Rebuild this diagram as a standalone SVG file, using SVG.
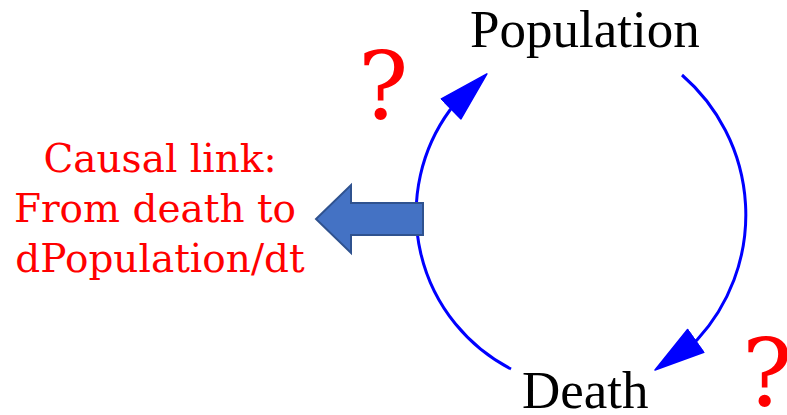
<svg xmlns="http://www.w3.org/2000/svg" width="787" height="415" viewBox="0 0 787 415">
  <style>
    .node { font-family: "Liberation Serif", "Times New Roman", serif; font-size: 53px; fill: #000000; }
    .note { font-family: "DejaVu Serif", serif; font-size: 39px; fill: #FF0000; text-anchor: middle; }
    .ask { font-family: "DejaVu Serif", serif; font-size: 94px; fill: #FF0000; }
    .link { fill: none; stroke: #0000FF; stroke-width: 3; marker-end: url(#head); }
    .block { fill: #4472C4; stroke: #2F528F; stroke-width: 2; stroke-linejoin: miter; }
  </style>
  <defs>
    <marker id="head" markerUnits="userSpaceOnUse" viewBox="0 0 52 30" markerWidth="52" markerHeight="30" refX="45" refY="15" orient="auto">
      <path d="M1,1 L51,15 L1,29 Z" fill="#0000FF" stroke="#0000FF" stroke-width="1.5" stroke-linejoin="round"/>
    </marker>
  </defs>
  <rect width="787" height="415" fill="#FFFFFF"/>

  <g id="connectors">
    <!-- Population to Death, around the right side -->
    <path class="link" d="M682,75 A185,185 0 0 1 697,340 L659.9,366.5"/>
    <!-- Death back to Population, around the left side -->
    <path class="link" d="M511,369 A175,175 0 0 1 450,110 L482.6,78.1"/>
  </g>

  <g id="population">
    <text class="node" x="470" y="47">Population</text>
  </g>
  <g id="death">
    <text class="node" x="522" y="408">Death</text>
  </g>

  <g id="question-marks">
    <text class="ask" x="358" y="119">?</text>
    <text class="ask" x="742" y="406">?</text>
  </g>

  <g id="callout">
    <polygon class="block" points="423,203 351,203 351,185 316,219 351,253 351,235 423,235"/>
    <text class="note" x="160" y="172">Causal link:</text>
    <text class="note" x="155" y="222">From death to</text>
    <text class="note" x="160" y="272">dPopulation/dt</text>
  </g>
</svg>
